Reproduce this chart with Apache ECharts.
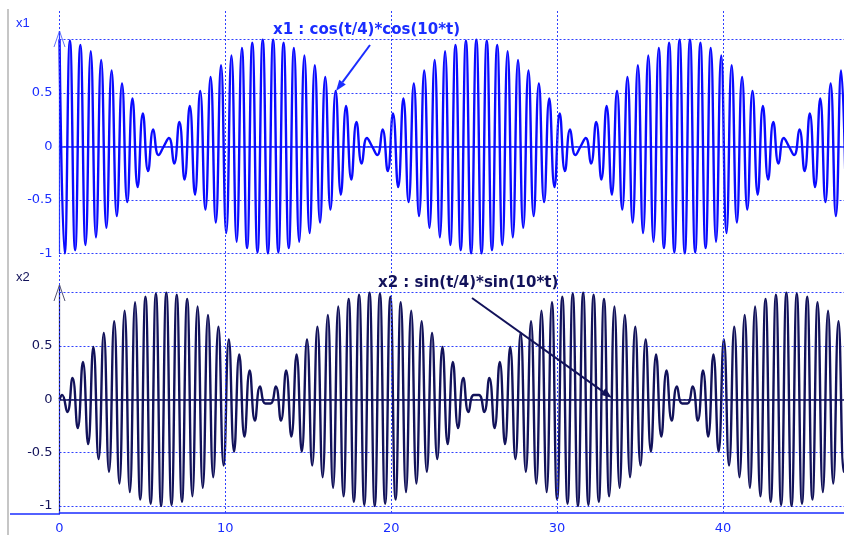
<!DOCTYPE html>
<html>
<head>
<meta charset="utf-8">
<title>x1 / x2</title>
<script src="https://cdn.jsdelivr.net/npm/echarts@6/dist/echarts.min.js"></script>
<style>
  html, body { margin: 0; background: #fff; }
  #chart { width: 844px; height: 535px; }
</style>
</head>
<body>
<div id="chart"></div>
<script>
// one swing of the carrier lasts pi/10, so a peak comes every half swing
const halfSwing = Math.PI / 10;

// x1 peaks (first one at t = 0)
const x1Peaks = [
  1.00, -1.00, 0.99, -0.97, 0.95, -0.92, 0.89, -0.85, 0.81, -0.76, 0.71, -0.65, 0.59, -0.52, 0.45, -0.38, 0.31, -0.23, 0.16, -0.08,
  0, 0.08, -0.16, 0.23, -0.31, 0.38, -0.45, 0.52, -0.59, 0.65, -0.71, 0.76, -0.81, 0.85, -0.89, 0.92, -0.95, 0.97, -0.99, 1.00,
  -1.00, 1.00, -0.99, 0.97, -0.95, 0.92, -0.89, 0.85, -0.81, 0.76, -0.71, 0.65, -0.59, 0.52, -0.45, 0.38, -0.31, 0.23, -0.16, 0.08,
  0, -0.08, 0.16, -0.23, 0.31, -0.38, 0.45, -0.52, 0.59, -0.65, 0.71, -0.76, 0.81, -0.85, 0.89, -0.92, 0.95, -0.97, 0.99, -1.00,
  1.00, -1.00, 0.99, -0.97, 0.95, -0.92, 0.89, -0.85, 0.81, -0.76, 0.71, -0.65, 0.59, -0.52, 0.45, -0.38, 0.31, -0.23, 0.16, -0.08,
  0, 0.08, -0.16, 0.23, -0.31, 0.38, -0.45, 0.52, -0.59, 0.65, -0.71, 0.76, -0.81, 0.85, -0.89, 0.92, -0.95, 0.97, -0.99, 1.00,
  -1.00, 1.00, -0.99, 0.97, -0.95, 0.92, -0.89, 0.85, -0.81, 0.76, -0.71, 0.65, -0.59, 0.52, -0.45, 0.38, -0.31, 0.23, -0.16, 0.08,
  0, -0.08, 0.16, -0.23, 0.31, -0.38, 0.45, -0.52, 0.59, -0.65, 0.71, -0.76
];

// x2 peaks (first one half a step after t = 0)
const x2Peaks = [
  0.04, -0.12, 0.20, -0.27, 0.35, -0.42, 0.49, -0.56, 0.62, -0.68, 0.73, -0.79, 0.83, -0.87, 0.91, -0.94, 0.96, -0.98, 0.99, -1.00,
  1.00, -0.99, 0.98, -0.96, 0.94, -0.91, 0.87, -0.83, 0.79, -0.73, 0.68, -0.62, 0.56, -0.49, 0.42, -0.35, 0.27, -0.20, 0.12, -0.04,
  -0.04, 0.12, -0.20, 0.27, -0.35, 0.42, -0.49, 0.56, -0.62, 0.68, -0.73, 0.79, -0.83, 0.87, -0.91, 0.94, -0.96, 0.98, -0.99, 1.00,
  -1.00, 0.99, -0.98, 0.96, -0.94, 0.91, -0.87, 0.83, -0.79, 0.73, -0.68, 0.62, -0.56, 0.49, -0.42, 0.35, -0.27, 0.20, -0.12, 0.04,
  0.04, -0.12, 0.20, -0.27, 0.35, -0.42, 0.49, -0.56, 0.62, -0.68, 0.73, -0.79, 0.83, -0.87, 0.91, -0.94, 0.96, -0.98, 0.99, -1.00,
  1.00, -0.99, 0.98, -0.96, 0.94, -0.91, 0.87, -0.83, 0.79, -0.73, 0.68, -0.62, 0.56, -0.49, 0.42, -0.35, 0.27, -0.20, 0.12, -0.04,
  -0.04, 0.12, -0.20, 0.27, -0.35, 0.42, -0.49, 0.56, -0.62, 0.68, -0.73, 0.79, -0.83, 0.87, -0.91, 0.94, -0.96, 0.98, -0.99, 1.00,
  -1.00, 0.99, -0.98, 0.96, -0.94, 0.91, -0.87, 0.83, -0.79, 0.73, -0.68, 0.62
];

const tTicks = [0, 10, 20, 30, 40];
const tMin = 0, tMax = 47.3, tStep = 10;
const yMin = -1, yMax = 1, yStep = 0.5;

const blue = '#1a2dff';
const navy = '#12125a';
const gridBlue = '#2f40ff';
const font = 'DejaVu Sans';

function dotted() {
  return { color: gridBlue, type: [2, 2], width: 1, opacity: 1 };
}

const x1Data = x1Peaks.map((v, k) => [k * halfSwing, v]);
const x2Data = [[0, 0]].concat(x2Peaks.map((v, k) => [(k + 0.5) * halfSwing, v]));

function arrow(xa, ya, xb, yb, color) {
  const a = Math.atan2(yb - ya, xb - xa), len = 11, w = 4;
  const bx = xb - len * Math.cos(a), by = yb - len * Math.sin(a);
  return [
    { type: 'line', z: 20, shape: { x1: xa, y1: ya, x2: bx, y2: by }, style: { stroke: color, lineWidth: 2 } },
    { type: 'polygon', z: 20, shape: { points: [[xb, yb], [bx - w * Math.sin(a), by + w * Math.cos(a)], [bx + w * Math.sin(a), by - w * Math.cos(a)]] }, style: { fill: color } }
  ];
}

function plotY(grid, color) {
  return {
    gridIndex: grid, type: 'value', min: yMin, max: yMax, interval: yStep,
    axisLine: { show: true, lineStyle: { color: color, width: 1.2 } },
    axisTick: { show: false },
    axisLabel: { color: color, fontFamily: font, fontSize: 13, margin: 7, showMaxLabel: false },
    splitLine: { show: true, lineStyle: dotted() }
  };
}

function plotX(grid, color) {
  return {
    gridIndex: grid, type: 'value', min: tMin, max: tMax,
    axisLine: { show: true, onZero: true, lineStyle: { color: color, width: 1.5 } },
    axisTick: { show: false }, axisLabel: { show: false }, splitLine: { show: false }
  };
}

const chart = echarts.init(document.getElementById('chart'));
chart.setOption({
  animation: false,
  backgroundColor: '#fff',
  grid: [
    { left: 59.5, right: 0, top: 9, height: 505 },
    { left: 59.5, right: 0, top: 39.5, height: 214 },
    { left: 59.5, right: 0, top: 292.5, height: 213.5 }
  ],
  xAxis: [
    {
      gridIndex: 0, type: 'value', min: tMin, max: tMax, interval: tStep,
      axisLine: { show: true, onZero: false, lineStyle: { color: blue, width: 1.5 } },
      axisTick: { show: false },
      axisLabel: { color: blue, fontFamily: font, fontSize: 13, margin: 9, showMaxLabel: false },
      splitLine: { show: false }
    },
    plotX(1, blue),
    plotX(2, navy)
  ],
  yAxis: [
    { gridIndex: 0, type: 'value', min: 0, max: 1, show: false },
    plotY(1, blue),
    plotY(2, navy)
  ],
  series: [
    {
      // carries the full-height time grid lines
      type: 'line', xAxisIndex: 0, yAxisIndex: 0, data: [[0, 0]],
      symbol: 'none', silent: true, lineStyle: { opacity: 0 },
      markLine: {
        silent: true, symbol: 'none', label: { show: false },
        lineStyle: dotted(),
        emphasis: { disabled: true },
        data: tTicks.map(v => ({ xAxis: v }))
      }
    },
    {
      name: 'x1', type: 'line', xAxisIndex: 1, yAxisIndex: 1, data: x1Data,
      smooth: true, showSymbol: false, symbol: 'none',
      lineStyle: { color: '#0a0aff', width: 2.4 }
    },
    {
      name: 'x2', type: 'line', xAxisIndex: 2, yAxisIndex: 2, data: x2Data,
      smooth: true, showSymbol: false, symbol: 'none',
      lineStyle: { color: navy, width: 2.4 }
    }
  ],
  graphic: [
    // window edge on the left and the stub of the time axis
    { type: 'line', shape: { x1: 8, y1: 9, x2: 8, y2: 535 }, style: { stroke: '#c6c6c6', lineWidth: 2 } },
    { type: 'line', shape: { x1: 10, y1: 514, x2: 60, y2: 514 }, style: { stroke: blue, lineWidth: 1.5 } },
    // y axis stems and open arrow tips
    { type: 'line', shape: { x1: 59.5, y1: 31, x2: 59.5, y2: 40 }, style: { stroke: blue, lineWidth: 1.2 } },
    { type: 'polyline', shape: { points: [[54, 47], [59.5, 31], [65, 47]] }, style: { stroke: '#6070ff', lineWidth: 1, fill: null } },
    { type: 'line', shape: { x1: 59.5, y1: 285, x2: 59.5, y2: 293 }, style: { stroke: navy, lineWidth: 1.2 } },
    { type: 'polyline', shape: { points: [[54, 301], [59.5, 285], [65, 301]] }, style: { stroke: '#505070', lineWidth: 1, fill: null } },
    { type: 'line', shape: { x1: 59.5, y1: 506, x2: 59.5, y2: 514 }, style: { stroke: navy, lineWidth: 1.2 } },
    // axis names
    { type: 'text', x: 16, y: 23, style: { text: 'x1', fill: blue, fontFamily: 'Liberation Sans', fontSize: 13, verticalAlign: 'middle' } },
    { type: 'text', x: 16, y: 277, style: { text: 'x2', fill: navy, fontFamily: 'Liberation Sans', fontSize: 13, verticalAlign: 'middle' } },
    // annotations
    { type: 'text', z: 20, x: 273, y: 30, style: { text: 'x1 : cos(t/4)*cos(10*t)', fill: blue, fontFamily: font, fontWeight: 'bold', fontSize: 15, verticalAlign: 'middle' } },
    ...arrow(370, 45, 336, 91, blue),
    { type: 'text', z: 20, x: 378, y: 283, style: { text: 'x2 : sin(t/4)*sin(10*t)', fill: navy, fontFamily: font, fontWeight: 'bold', fontSize: 15, verticalAlign: 'middle' } },
    ...arrow(472, 298, 612, 398, navy)
  ]
});
</script>
</body>
</html>
